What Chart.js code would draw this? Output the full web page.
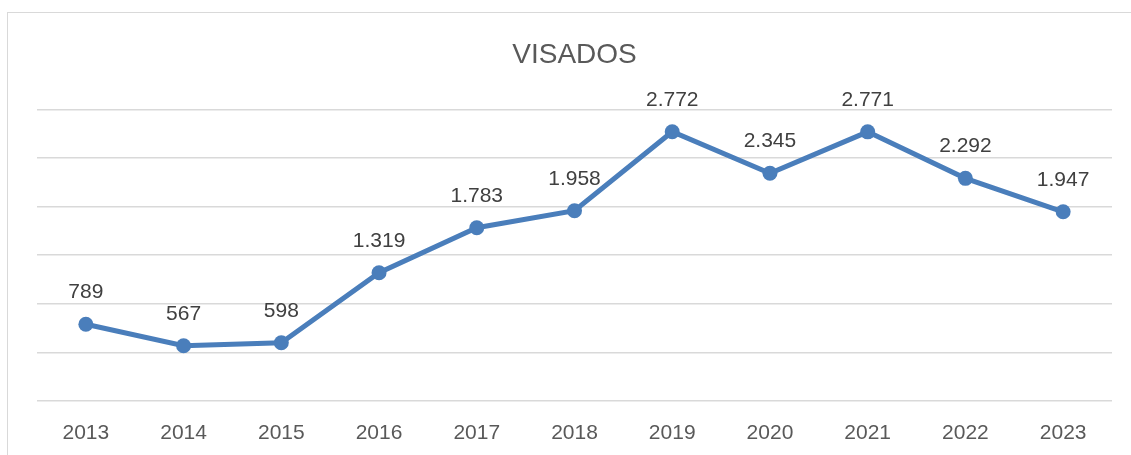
<!DOCTYPE html>
<html>
<head>
<meta charset="utf-8">
<script src="https://cdn.jsdelivr.net/npm/chart.js@4"></script>
<style>
  html, body { margin: 0; padding: 0; background: #fff; }
  .frame {
    position: absolute; left: 7px; top: 12px; width: 1140px; height: 460px;
    border-left: 1px solid #d9d9d9; border-top: 1px solid #d9d9d9;
  }
  canvas { position: absolute; left: 0; top: 0; }
</style>
</head>
<body>
<div class="frame"></div>
<canvas id="myChart" width="1131" height="455"></canvas>
<script>
const years = ['2013', '2014', '2015', '2016', '2017', '2018', '2019', '2020', '2021', '2022', '2023'];
const visados = [789, 567, 598, 1319, 1783, 1958, 2772, 2345, 2771, 2292, 1947];
const yMin = 0;
const yMax = 3000;
const yStep = 500;

const FONT = '"Liberation Sans", Arial, sans-serif';

// numbers like Excel pt-PT: 1.319
function fmt(v) {
  return v.toLocaleString('de-DE');
}

// value labels above each point
const valueLabels = {
  id: 'valueLabels',
  afterDatasetsDraw(chart) {
    const ctx = chart.ctx;
    const meta = chart.getDatasetMeta(0);
    ctx.save();
    ctx.font = '21px ' + FONT;
    ctx.fillStyle = '#404040';
    ctx.textAlign = 'center';
    ctx.textBaseline = 'middle';
    meta.data.forEach((pt, i) => {
      ctx.fillText(fmt(visados[i]), pt.x, pt.y - 32);
    });
    ctx.restore();
  }
};

var ctx = document.getElementById('myChart');
var myChart = new Chart(ctx, {
  type: 'line',
  data: {
    labels: years,
    datasets: [
      {
        label: 'VISADOS',
        data: visados,
        borderColor: '#4a7ebb',
        backgroundColor: '#4a7ebb',
        borderWidth: 5,
        pointRadius: 7.5,
        pointHoverRadius: 7.5,
        pointBorderWidth: 0,
        tension: 0,
      },
    ],
  },
  options: {
    responsive: false,
    animation: false,
    layout: {
      padding: { left: 37, right: 19, top: 0, bottom: -3 },
    },
    plugins: {
      legend: { display: false },
      tooltip: { enabled: false },
      title: {
        display: true,
        text: 'VISADOS',
        color: '#595959',
        font: { family: FONT, size: 28, weight: 'normal' },
        padding: { top: 38, bottom: 38 },
      },
    },
    scales: {
      x: {
        offset: true,
        grid: { display: false },
        border: { display: false },
        ticks: {
          color: '#595959',
          font: { family: FONT, size: 21 },
          padding: 12,
          maxRotation: 0,
        },
      },
      y: {
        min: yMin,
        max: yMax,
        border: { display: false },
        grid: { color: '#d9d9d9', lineWidth: 1.5, drawTicks: false },
        ticks: { display: false, stepSize: yStep },
      },
    },
  },
  plugins: [valueLabels],
});
</script>
</body>
</html>
